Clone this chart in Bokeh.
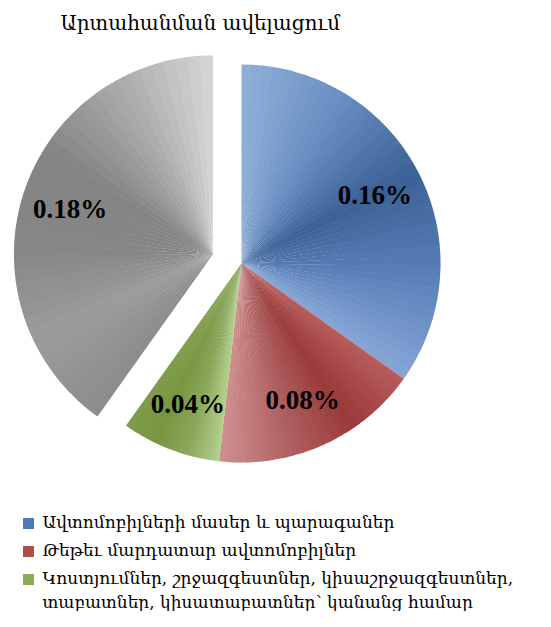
import math
from bokeh.plotting import figure
from bokeh.models import Range1d
from bokeh.core.properties import value
from bokeh.embed import file_html
from bokeh.resources import INLINE

title_text = "Արտահանման ավելացում"
categories = [
    "Ավտոմոբիլների մասեր և պարագաներ",
    "Թեթեւ մարդատար ավտոմոբիլներ",
    "Կոստյումներ, շրջազգեստներ, կիսաշրջազգեստներ,\nտաբատներ, կիսատաբատներ՝ կանանց համար",
    "",
]
values = [0.160, 0.078, 0.037, 0.1845]
exploded = [0, 0, 0, 1]
labels = ["%.2f%%" % v for v in values]

# style: gradient stops per slice (angular, clockwise order)
stops = [
    ["#8fb0d8", "#6a8ec2", "#3b6196", "#5a7fb8", "#86a6d6"],
    ["#b85c5c", "#9a3a3a", "#b06262", "#cf8f8f"],
    ["#b4d08e", "#8aa85a", "#789640", "#7f9c4a"],
    ["#8c8c8c", "#9c9c9c", "#868686", "#848484", "#aaaaaa", "#d6d6d6"],
]
legend_colors = ["#4f79b3", "#b04c4c", "#8cab55"]

W, H = 535, 611
p = figure(width=W, height=H, output_backend="svg", toolbar_location=None,
           x_range=Range1d(0, W), y_range=Range1d(0, H), min_border=0)
p.axis.visible = False
p.grid.visible = False
p.outline_line_color = None


def Y(py):
    return H - py


def X(px):
    return px


def hexrgb(h):
    return tuple(int(h[i:i + 2], 16) for i in (1, 3, 5))


def interp(cols, t):
    n = len(cols) - 1
    k = min(int(t * n), n - 1)
    f = t * n - k
    a, b = hexrgb(cols[k]), hexrgb(cols[k + 1])
    return "#%02x%02x%02x" % tuple(int(round(a[i] + (b[i] - a[i]) * f)) for i in range(3))


cx, cy, R = X(241), Y(263), 199
explode_d = 30
total = sum(values)
cum = 0.0
NSUB = 40
for i, v in enumerate(values):
    f0, f1 = cum / total, (cum + v) / total
    cum += v
    a0 = math.pi / 2 - 2 * math.pi * f0
    a1 = math.pi / 2 - 2 * math.pi * f1
    am = (a0 + a1) / 2
    ox = cx + exploded[i] * explode_d * math.cos(am)
    oy = cy + exploded[i] * explode_d * math.sin(am)
    xs, ys, sa, ea, cols = [], [], [], [], []
    for k in range(NSUB):
        s0 = a0 + (a1 - a0) * k / NSUB
        s1 = a0 + (a1 - a0) * (k + 1) / NSUB
        xs.append(ox); ys.append(oy)
        sa.append(s1); ea.append(s0 + 0.004 if k > 0 else s0)
        cols.append(interp(stops[i], (k + 0.5) / NSUB))
    p.wedge(x=xs, y=ys, radius=R, start_angle=sa, end_angle=ea,
            fill_color=cols, line_color=None)
    lr = 150
    p.text(x=[ox + lr * math.cos(am)], y=[oy + lr * math.sin(am)], text=[labels[i]],
           text_font=value("Liberation Serif"), text_font_style="bold",
           text_font_size="27px", text_align="center", text_baseline="middle",
           text_color="black")

# title
p.text(x=[X(60)], y=[Y(22)], text=[title_text], text_font=value("DejaVu Serif"),
       text_font_size="20px", text_align="left", text_baseline="middle", text_color="black")

# legend
leg_y = [521, 549, 577]
line_gap = 24
for i in range(3):
    p.rect(x=[X(28)], y=[Y(leg_y[i] + 2)], width=11, height=11, fill_color=legend_colors[i],
           line_color=None)
for i, txt in enumerate(categories[:3]):
    for j, part in enumerate(txt.split("\n")):
        p.text(x=[X(42)], y=[Y(leg_y[i] + j * line_gap)], text=[part],
               text_font=value("DejaVu Serif"), text_font_size="17px",
               text_align="left", text_baseline="middle", text_color="black")

open("out.html", "w").write(file_html(p, INLINE))
